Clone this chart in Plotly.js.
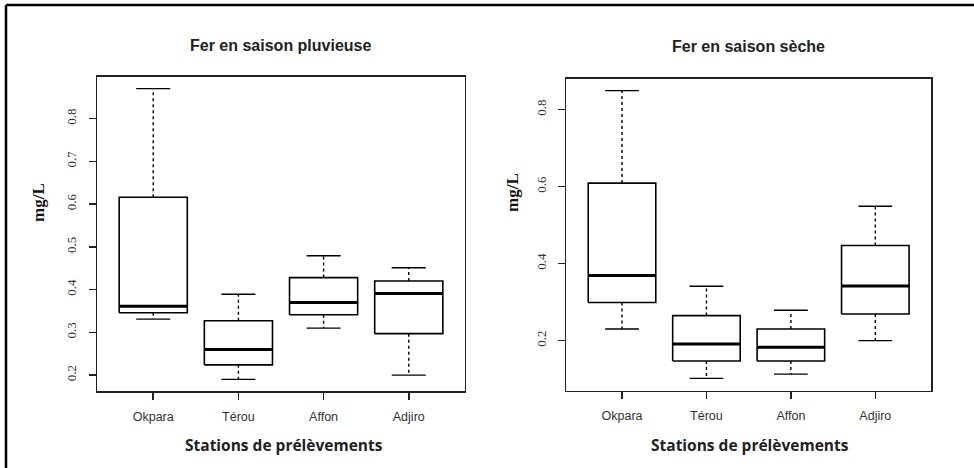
<!DOCTYPE html>
<html>
<head>
<meta charset="utf-8">
<script src="https://cdn.plot.ly/plotly-3.0.1.min.js"></script>
<style>html,body{margin:0;padding:0;background:#fff;}#chart{width:974px;height:468px;}</style>
</head>
<body>
<div id="chart"></div>
<script>
// Stations (categories)
const stations = ["Okpara", "Térou", "Affon", "Adjiro"];

// Saison pluvieuse: [min whisker, Q1, median, Q3, max whisker]
const pluvLow    = [0.331, 0.190, 0.310, 0.200];
const pluvQ1     = [0.346, 0.224, 0.341, 0.297];
const pluvMedian = [0.361, 0.260, 0.370, 0.391];
const pluvQ3     = [0.616, 0.327, 0.428, 0.420];
const pluvHigh   = [0.870, 0.389, 0.479, 0.451];

// Saison sèche
const secLow    = [0.230, 0.102, 0.113, 0.200];
const secQ1     = [0.299, 0.147, 0.147, 0.269];
const secMedian = [0.369, 0.191, 0.183, 0.342];
const secQ3     = [0.609, 0.265, 0.230, 0.447];
const secHigh   = [0.849, 0.341, 0.279, 0.549];

const yTicksPluv = [0.2, 0.3, 0.4, 0.5, 0.6, 0.7, 0.8];
const yTicksSec  = [0.2, 0.4, 0.6, 0.8];

const BOXW = 0.4, CAPW = 0.2;

function boxTraces(low, q1, med, q3, high, xa, ya) {
  const bx = [], by = [], mx = [], my = [], wx = [], wy = [], cx = [], cy = [];
  stations.forEach((s, i) => {
    bx.push(i - BOXW, i + BOXW, i + BOXW, i - BOXW, i - BOXW, null);
    by.push(q1[i], q1[i], q3[i], q3[i], q1[i], null);
    mx.push(i - BOXW, i + BOXW, null);
    my.push(med[i], med[i], null);
    wx.push(i, i, null, i, i, null);
    wy.push(q3[i], high[i], null, q1[i], low[i], null);
    cx.push(i - CAPW, i + CAPW, null, i - CAPW, i + CAPW, null);
    cy.push(high[i], high[i], null, low[i], low[i], null);
  });
  const common = {type: "scatter", mode: "lines", xaxis: xa, yaxis: ya, hoverinfo: "skip", showlegend: false};
  return [
    Object.assign({}, common, {x: wx, y: wy, line: {color: "#000", width: 1.4, dash: "dot"}}),
    Object.assign({}, common, {x: cx, y: cy, line: {color: "#000", width: 1.4}}),
    Object.assign({}, common, {x: bx, y: by, line: {color: "#000", width: 1.6}, fill: "toself", fillcolor: "#fff"}),
    Object.assign({}, common, {x: mx, y: my, line: {color: "#000", width: 3}})
  ];
}

const data = [].concat(
  boxTraces(pluvLow, pluvQ1, pluvMedian, pluvQ3, pluvHigh, "x", "y"),
  boxTraces(secLow, secQ1, secMedian, secQ3, secHigh, "x2", "y2")
);

const xBase = {
  range: [-0.66, 3.66], tickvals: [0, 1, 2, 3], ticktext: stations,
  showline: true, mirror: true, linecolor: "#222", linewidth: 1.5,
  ticks: "outside", ticklen: 7, tickwidth: 1.5, tickcolor: "#222",
  showgrid: false, zeroline: false, fixedrange: true,
  tickfont: {family: "Liberation Sans, Arial, sans-serif", size: 12.5, color: "#333"},
  ticklabelstandoff: 6
};
const yBase = {
  showline: true, mirror: true, linecolor: "#222", linewidth: 1.5,
  ticks: "outside", ticklen: 7, tickwidth: 1.5, tickcolor: "#222",
  showgrid: false, zeroline: false, fixedrange: true, tickangle: -90,
  tickfont: {family: "Liberation Serif, DejaVu Serif, serif", size: 13, color: "#333"},
  ticklabelstandoff: 7
};

const titleFont = {family: "Liberation Sans, Arial, sans-serif", size: 16, color: "#222"};
const xlabFont = {family: "Open Sans, Liberation Sans, sans-serif", size: 15.5, color: "#222"};
const ylabFont = {family: "Liberation Serif, serif", size: 17, color: "#111"};

const layout = {
  width: 974, height: 468,
  margin: {l: 0, r: 0, t: 0, b: 0},
  paper_bgcolor: "#fff", plot_bgcolor: "#fff",
  showlegend: false,
  xaxis: Object.assign({}, xBase, {domain: [0.0996, 0.4774], anchor: "y"}),
  yaxis: Object.assign({}, yBase, {domain: [0.1645, 0.8355], anchor: "x", range: [0.1628, 0.8972], tickvals: yTicksPluv, ticktext: yTicksPluv.map(String)}),
  xaxis2: Object.assign({}, xBase, {domain: [0.5814, 0.9559], anchor: "y2"}),
  yaxis2: Object.assign({}, yBase, {domain: [0.1652, 0.8318], anchor: "x2", range: [0.07, 0.88], tickvals: yTicksSec, ticktext: yTicksSec.map(String)}),
  annotations: [
    {text: "<b>Fer en saison pluvieuse</b>", xref: "paper", yref: "paper", x: 281/974, y: 1 - 46/468, showarrow: false, xanchor: "center", yanchor: "middle", font: titleFont},
    {text: "<b>Fer en saison sèche</b>", xref: "paper", yref: "paper", x: 748.7/974, y: 1 - 47/468, showarrow: false, xanchor: "center", yanchor: "middle", font: titleFont},
    {text: "<b>mg/L</b>", xref: "paper", yref: "paper", x: 38/974, y: 1 - 203/468, showarrow: false, textangle: -90, xanchor: "center", yanchor: "middle", font: ylabFont},
    {text: "<b>mg/L</b>", xref: "paper", yref: "paper", x: 512/974, y: 1 - 193/468, showarrow: false, textangle: -90, xanchor: "center", yanchor: "middle", font: ylabFont},
    {text: "<b>Stations de prélèvements</b>", xref: "paper", yref: "paper", x: 284/974, y: 1 - 445/468, showarrow: false, xanchor: "center", yanchor: "middle", font: xlabFont},
    {text: "<b>Stations de prélèvements</b>", xref: "paper", yref: "paper", x: 750/974, y: 1 - 445/468, showarrow: false, xanchor: "center", yanchor: "middle", font: xlabFont}
  ],
  shapes: [
    {type: "line", xref: "paper", yref: "paper", x0: 6/974, x1: 1, y0: 1 - 5/468, y1: 1 - 5/468, line: {color: "#000", width: 2.5}},
    {type: "line", xref: "paper", yref: "paper", x0: 6/974, x1: 6/974, y0: 0, y1: 1 - 5/468, line: {color: "#000", width: 2.5}}
  ]
};

Plotly.newPlot("chart", data, layout, {displayModeBar: false, staticPlot: true});
</script>
</body>
</html>
